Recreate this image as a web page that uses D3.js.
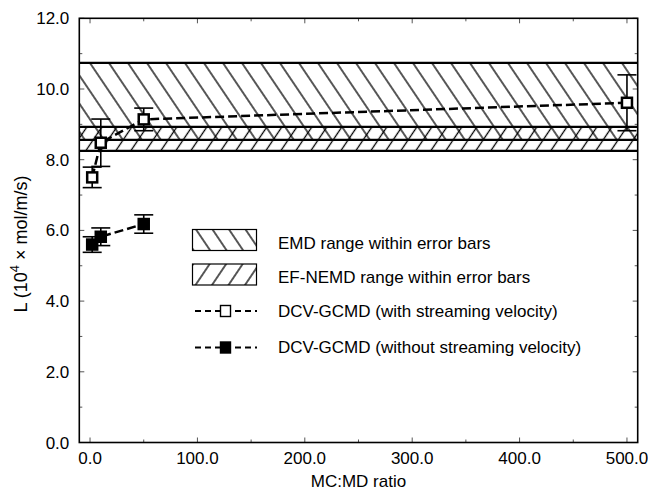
<!DOCTYPE html>
<html>
<head>
<meta charset="utf-8">
<script src="https://cdnjs.cloudflare.com/ajax/libs/d3/7.8.5/d3.min.js"></script>
<style>
  body { margin: 0; background: #fff; }
  text { font-family: "Liberation Sans", Arial, Helvetica, sans-serif; fill: #000; }
</style>
</head>
<body>
<div id="chart"></div>
<script>
// MC:MD ratio values and conductivity L (10^4 mol/m/s)
const ratioWith = [2, 10, 50, 500];
const valueWith = [7.50, 8.48, 9.14, 9.61];
const errWith = [0.29, 0.67, 0.32, 0.79];

const ratioWithout = [2, 10, 50];
const valueWithout = [5.60, 5.82, 6.18];
const errWithout = [0.22, 0.25, 0.26];

// reference ranges (low, high)
const emdRange = [8.56, 10.74];
const nemdRange = [8.25, 8.93];

const xTickValues = [0, 100, 200, 300, 400, 500];
const xMinorValues = [50, 150, 250, 350, 450];
const yTickValues = [0, 2, 4, 6, 8, 10, 12];
const yMinorValues = [1, 3, 5, 7, 9, 11];

const legendLabels = [
  "EMD range within error bars",
  "EF-NEMD range within error bars",
  "DCV-GCMD (with streaming velocity)",
  "DCV-GCMD (without streaming velocity)"
];

const width = 648, height = 493;
const margin = { top: 18.3, right: 10.3, bottom: 50.5, left: 79.3 };

const svg = d3.select("#chart").append("svg")
  .attr("width", width)
  .attr("height", height);

const x = d3.scaleLinear().domain([-10, 510]).range([margin.left, width - margin.right]);
const y = d3.scaleLinear().domain([0, 12]).range([height - margin.bottom, margin.top]);

// hatch patterns
const defs = svg.append("defs");
function hatch(id, angle, spacing) {
  const p = defs.append("pattern")
    .attr("id", id)
    .attr("patternUnits", "userSpaceOnUse")
    .attr("width", spacing)
    .attr("height", 40)
    .attr("patternTransform", `rotate(${angle})`);
  p.append("line")
    .attr("x1", spacing / 2).attr("x2", spacing / 2)
    .attr("y1", -2).attr("y2", 42)
    .attr("stroke", "#000")
    .attr("stroke-width", 1.3);
}
hatch("back", -34, 19 * Math.cos(34 * Math.PI / 180));
hatch("fwd", 34, 15 * Math.cos(34 * Math.PI / 180));
hatch("backL", -34, 16.5 * Math.cos(34 * Math.PI / 180));
hatch("fwdL", 34, 16.5 * Math.cos(34 * Math.PI / 180));

const [x0, x1] = x.range();

// bands
function band(range, pat) {
  svg.append("rect")
    .attr("x", x0).attr("width", x1 - x0)
    .attr("y", y(range[1])).attr("height", y(range[0]) - y(range[1]))
    .attr("fill", `url(#${pat})`);
}
band(emdRange, "back");
band(nemdRange, "fwd");
[emdRange, nemdRange].forEach(r => {
  r.forEach(v => {
    svg.append("line")
      .attr("x1", x0).attr("x2", x1)
      .attr("y1", y(v)).attr("y2", y(v))
      .attr("stroke", "#000").attr("stroke-width", 2.2);
  });
});

// ticks (inside, on all four sides)
const tickG = svg.append("g").attr("stroke", "#555").attr("stroke-width", 1);
function ticks(values, len) {
  values.forEach(v => {
    tickG.append("line").attr("x1", x(v)).attr("x2", x(v))
      .attr("y1", y.range()[0]).attr("y2", y.range()[0] - len);
    tickG.append("line").attr("x1", x(v)).attr("x2", x(v))
      .attr("y1", y.range()[1]).attr("y2", y.range()[1] + len);
  });
}
function yticks(values, len) {
  values.forEach(v => {
    tickG.append("line").attr("y1", y(v)).attr("y2", y(v))
      .attr("x1", x0).attr("x2", x0 + len);
    tickG.append("line").attr("y1", y(v)).attr("y2", y(v))
      .attr("x1", x1).attr("x2", x1 - len);
  });
}
ticks(xTickValues, 5);
ticks(xMinorValues, 3);
yticks(yTickValues, 5);
yticks(yMinorValues, 3);

// tick labels
svg.append("g").selectAll("text")
  .data(xTickValues).join("text")
  .attr("x", d => x(d)).attr("y", y.range()[0] + 21)
  .attr("text-anchor", "middle")
  .attr("font-size", 17)
  .text(d => d.toFixed(1));

svg.append("g").selectAll("text")
  .data(yTickValues).join("text")
  .attr("x", x0 - 10).attr("y", d => y(d) + 6)
  .attr("text-anchor", "end")
  .attr("font-size", 17)
  .text(d => d.toFixed(1));

// axis labels
svg.append("text")
  .attr("x", (x0 + x1) / 2).attr("y", 487)
  .attr("text-anchor", "middle")
  .attr("font-size", 17)
  .text("MC:MD ratio");

const yl = svg.append("text")
  .attr("transform", "translate(27,244) rotate(-90)")
  .attr("text-anchor", "middle")
  .attr("font-size", 18);
yl.append("tspan").text("L (10");
yl.append("tspan").attr("dy", -8).attr("font-size", 13).text("4");
yl.append("tspan").attr("dy", 8).text(" \u00d7 mol/m/s)");

// series
const dashed = d3.line().x(d => x(d[0])).y(d => y(d[1]));

function series(xs, vs, es, filled) {
  const pts = xs.map((d, i) => [d, vs[i], es[i]]);
  svg.append("path")
    .attr("d", dashed(pts))
    .attr("fill", "none")
    .attr("stroke", "#000")
    .attr("stroke-width", 2.5)
    .attr("stroke-dasharray", "9,4");
  const g = svg.append("g").attr("stroke", "#000").attr("stroke-width", 1.6);
  pts.forEach(p => {
    const cx = x(p[0]);
    g.append("line").attr("x1", cx).attr("x2", cx)
      .attr("y1", y(p[1] - p[2])).attr("y2", y(p[1] + p[2]));
    [p[1] - p[2], p[1] + p[2]].forEach(v => {
      g.append("line").attr("x1", cx - 9.5).attr("x2", cx + 9.5)
        .attr("y1", y(v)).attr("y2", y(v));
    });
  });
  pts.forEach(p => {
    svg.append("rect")
      .attr("x", x(p[0]) - 5).attr("y", y(p[1]) - 5)
      .attr("width", 10).attr("height", 10)
      .attr("fill", filled ? "#000" : "#fff")
      .attr("stroke", "#000").attr("stroke-width", 2.5);
  });
}
series(ratioWith, valueWith, errWith, false);
series(ratioWithout, valueWithout, errWithout, true);

// frame
svg.append("rect")
  .attr("x", x0).attr("y", y.range()[1])
  .attr("width", x1 - x0).attr("height", y.range()[0] - y.range()[1])
  .attr("fill", "none").attr("stroke", "#000").attr("stroke-width", 1.6);

// legend
const leg = svg.append("g");
const boxY = [229.5, 264];
["backL", "fwdL"].forEach((pat, i) => {
  leg.append("rect")
    .attr("x", 192.5).attr("y", boxY[i])
    .attr("width", 64).attr("height", 21)
    .attr("fill", `url(#${pat})`)
    .attr("stroke", "#000").attr("stroke-width", 1.2);
});
const lineY = [311, 347.5];
lineY.forEach((ly, i) => {
  leg.append("line")
    .attr("x1", 195).attr("x2", 257)
    .attr("y1", ly).attr("y2", ly)
    .attr("stroke", "#000").attr("stroke-width", 1.8)
    .attr("stroke-dasharray", "6,4");
  leg.append("rect")
    .attr("x", 220.5).attr("y", ly - 5.5)
    .attr("width", 10).attr("height", 11)
    .attr("fill", i === 0 ? "#fff" : "#000")
    .attr("stroke", "#000").attr("stroke-width", 1.4);
});
const textY = [242.7, 276.7, 310.7, 346.7];
leg.selectAll("text.lab")
  .data(legendLabels).join("text")
  .attr("class", "lab")
  .attr("x", 278).attr("y", (d, i) => textY[i] + 6)
  .attr("font-size", 17)
  .text(d => d);
</script>
</body>
</html>
